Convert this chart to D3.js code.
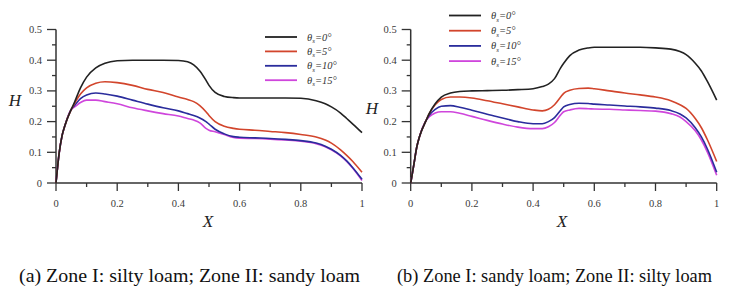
<!DOCTYPE html>
<html>
<head>
<meta charset="utf-8">
<script src="https://cdn.jsdelivr.net/npm/d3@7"></script>
<style>
  body { margin: 0; background: #fff; }
  svg { display: block; }
  text { font-family: "Liberation Serif", "DejaVu Serif", serif; }
  .tick-label { font-size: 10.5px; fill: #3a3a3a; }
  .axis-title { font-style: italic; font-size: 17px; fill: #222; }
  .legend-text { font-style: italic; font-size: 10.5px; fill: #333; }
  .caption { font-size: 19px; fill: #111; }
</style>
</head>
<body>
<div id="chart"></div>
<script>
// shared X positions along the slope
const xs = [0, 0.01, 0.02, 0.03, 0.05, 0.06, 0.08, 0.1, 0.13, 0.16, 0.2, 0.25, 0.3, 0.35, 0.4, 0.43, 0.45, 0.47, 0.49, 0.5,
  0.52, 0.55, 0.58, 0.6, 0.65, 0.7, 0.75, 0.8, 0.85, 0.88, 0.9, 0.93, 0.95, 0.97, 1];

// (a) Zone I: silty loam; Zone II: sandy loam
const a0  = [0, 0.095, 0.155, 0.19, 0.24, 0.262, 0.31, 0.345, 0.375, 0.39, 0.398, 0.4, 0.4, 0.4, 0.399, 0.395, 0.385, 0.365, 0.335, 0.318,
  0.295, 0.282, 0.278, 0.277, 0.277, 0.277, 0.277, 0.276, 0.268, 0.258, 0.248, 0.228, 0.21, 0.192, 0.164];
const a5  = [0, 0.095, 0.155, 0.19, 0.24, 0.258, 0.29, 0.31, 0.325, 0.33, 0.327, 0.318, 0.305, 0.295, 0.28, 0.272, 0.265, 0.252, 0.232, 0.22,
  0.2, 0.185, 0.178, 0.175, 0.172, 0.168, 0.164, 0.158, 0.15, 0.14, 0.13, 0.108, 0.09, 0.07, 0.035];
const a10 = [0, 0.095, 0.155, 0.19, 0.24, 0.252, 0.275, 0.287, 0.293, 0.29, 0.283, 0.27, 0.257, 0.245, 0.235, 0.226, 0.22, 0.212, 0.2, 0.192,
  0.175, 0.16, 0.151, 0.149, 0.147, 0.145, 0.142, 0.138, 0.13, 0.12, 0.11, 0.09, 0.072, 0.05, 0.012];
const a15 = [0, 0.095, 0.155, 0.19, 0.24, 0.247, 0.262, 0.27, 0.27, 0.265, 0.258, 0.245, 0.235, 0.226, 0.218, 0.21, 0.205, 0.196, 0.178, 0.172,
  0.167, 0.158, 0.148, 0.146, 0.145, 0.143, 0.14, 0.136, 0.128, 0.118, 0.108, 0.088, 0.07, 0.048, 0.008];

// (b) Zone I: sandy loam; Zone II: silty loam
const b0  = [0, 0.058, 0.118, 0.155, 0.203, 0.225, 0.258, 0.28, 0.293, 0.298, 0.3, 0.301, 0.302, 0.304, 0.307, 0.314, 0.322, 0.34, 0.375, 0.39,
  0.415, 0.433, 0.44, 0.442, 0.442, 0.442, 0.442, 0.44, 0.436, 0.428, 0.418, 0.39, 0.365, 0.33, 0.27];
const b5  = [0, 0.058, 0.118, 0.155, 0.203, 0.225, 0.255, 0.272, 0.28, 0.28, 0.277, 0.268, 0.258, 0.248, 0.238, 0.235, 0.24, 0.255, 0.28, 0.292,
  0.302, 0.308, 0.309, 0.307, 0.3, 0.293, 0.287, 0.28, 0.268, 0.255, 0.243, 0.21, 0.18, 0.14, 0.07];
const b10 = [0, 0.058, 0.118, 0.155, 0.203, 0.22, 0.24, 0.25, 0.252, 0.247, 0.237, 0.224, 0.212, 0.2, 0.193, 0.193, 0.2, 0.213, 0.237, 0.248,
  0.256, 0.26, 0.259, 0.257, 0.254, 0.251, 0.248, 0.244, 0.236, 0.225, 0.212, 0.18, 0.15, 0.11, 0.035];
const b15 = [0, 0.058, 0.118, 0.155, 0.203, 0.215, 0.228, 0.232, 0.232, 0.227, 0.217, 0.204, 0.192, 0.182, 0.177, 0.177, 0.183, 0.197, 0.222, 0.232,
  0.238, 0.243, 0.242, 0.241, 0.24, 0.238, 0.236, 0.234, 0.226, 0.215, 0.2, 0.17, 0.14, 0.1, 0.025];

const angles = ["0", "5", "10", "15"];
const colors = ["#222222", "#d2452c", "#2a2c9c", "#cf46dc"];
const xTicks = [0, 0.2, 0.4, 0.6, 0.8, 1];
const yTicks = [0, 0.1, 0.2, 0.3, 0.4, 0.5];
const captions = ["(a) Zone I: silty loam; Zone II: sandy loam", "(b) Zone I: sandy loam; Zone II: silty loam"];

const W = 732, H = 300;
const svg = d3.select("#chart").append("svg").attr("width", W).attr("height", H);

const panels = [
  {series: [a0, a5, a10, a15], x0: 56, x1: 362, hPos: [15, 100], xPos: [208, 221], legend: {x: 265, y: 37, dy: 14.4}},
  {series: [b0, b5, b10, b15], x0: 410.7, x1: 716.7, hPos: [372, 108], xPos: [562, 221], legend: {x: 449, y: 15.5, dy: 15.2}}
];

panels.forEach(p => drawPanel(p));

function drawPanel(p) {
  const x = d3.scaleLinear().domain([0, 1]).range([p.x0, p.x1]);
  const y = d3.scaleLinear().domain([0, 0.5]).range([183, 29.5]);
  const g = svg.append("g");

  // axes lines
  g.append("line").attr("x1", x(0)).attr("x2", x(1)).attr("y1", y(0)).attr("y2", y(0))
    .attr("stroke", "#333").attr("stroke-width", 1.5);
  g.append("line").attr("x1", x(0)).attr("x2", x(0)).attr("y1", y(0)).attr("y2", y(0.5))
    .attr("stroke", "#333").attr("stroke-width", 1.5);

  // x ticks, major every 0.2 and minor in between
  d3.range(0, 1.0001, 0.1).forEach((v, i) => {
    const major = i % 2 === 0;
    g.append("line").attr("x1", x(v)).attr("x2", x(v)).attr("y1", y(0)).attr("y2", y(0) + (major ? 8 : 4))
      .attr("stroke", "#333").attr("stroke-width", 1.3);
  });
  g.selectAll(".xl").data(xTicks).enter().append("text")
    .attr("class", "tick-label").attr("text-anchor", "middle")
    .attr("x", d => x(d)).attr("y", 207)
    .text(d => d === 0 || d === 1 ? d : d.toFixed(1));

  // y ticks
  d3.range(0, 0.5001, 0.05).forEach((v, i) => {
    const major = i % 2 === 0;
    g.append("line").attr("x1", x(0) - (major ? 9 : 4)).attr("x2", x(0)).attr("y1", y(v)).attr("y2", y(v))
      .attr("stroke", "#333").attr("stroke-width", 1.3);
  });
  g.selectAll(".yl").data(yTicks).enter().append("text")
    .attr("class", "tick-label").attr("text-anchor", "end")
    .attr("x", x(0) - 14).attr("y", d => y(d) + 3.5)
    .text(d => d === 0 ? "0" : d.toFixed(1));

  // axis titles
  g.append("text").attr("class", "axis-title").attr("text-anchor", "middle")
    .attr("x", p.hPos[0]).attr("y", p.hPos[1] + 6).text("H");
  g.append("text").attr("class", "axis-title").attr("text-anchor", "middle")
    .attr("x", p.xPos[0]).attr("y", p.xPos[1] + 6).text("X");

  // curves
  const line = d3.line().x((d, i) => x(xs[i])).y(d => y(d)).curve(d3.curveMonotoneX);
  p.series.slice().reverse().forEach((s, k) => {
    const idx = p.series.length - 1 - k;
    g.append("path").datum(s).attr("d", line)
      .attr("fill", "none").attr("stroke", colors[idx]).attr("stroke-width", 1.6);
  });

  // legend
  angles.forEach((a, i) => {
    const ly = p.legend.y + i * p.legend.dy;
    g.append("line").attr("x1", p.legend.x).attr("x2", p.legend.x + 32).attr("y1", ly).attr("y2", ly)
      .attr("stroke", colors[i]).attr("stroke-width", 1.8);
    const t = g.append("text").attr("class", "legend-text").attr("x", p.legend.x + 42).attr("y", ly + 3.5);
    t.append("tspan").text("θ");
    t.append("tspan").attr("font-size", "7px").attr("dy", 2.5).text("s");
    t.append("tspan").attr("dy", -2.5).text("=" + a + "°");
  });
}

// captions, stretched to the widths seen in the figure
svg.append("text").attr("class", "caption").attr("x", 19).attr("y", 282)
  .attr("textLength", 341).attr("lengthAdjust", "spacingAndGlyphs").text(captions[0]);
svg.append("text").attr("class", "caption").attr("x", 397).attr("y", 282)
  .attr("textLength", 315).attr("lengthAdjust", "spacingAndGlyphs").text(captions[1]);
</script>
</body>
</html>
